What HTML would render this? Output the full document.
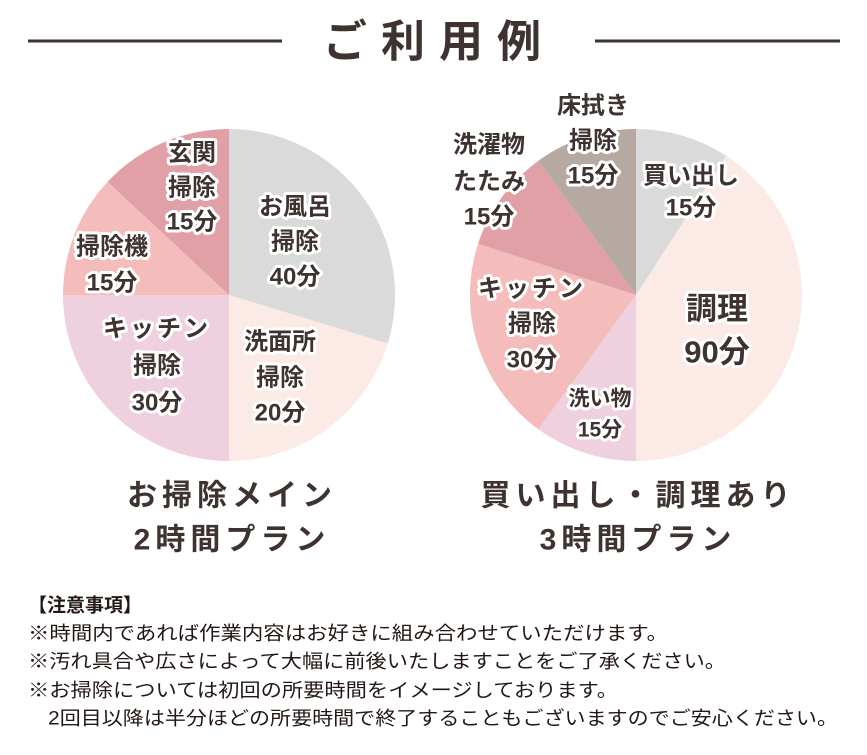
<!DOCTYPE html>
<html><head><meta charset="utf-8"><style>
html,body{margin:0;padding:0;background:#fff;}
svg{display:block;}
.l{font-family:"Liberation Sans","Noto Sans CJK JP",sans-serif;font-weight:700;fill:#3e3330;stroke:#fff;stroke-width:6px;stroke-linejoin:round;paint-order:stroke;text-anchor:middle;dominant-baseline:central;}
.t{font-family:"Liberation Sans","Noto Sans CJK JP",sans-serif;font-weight:700;fill:#3e3330;text-anchor:middle;dominant-baseline:central;}
.n{font-family:"Liberation Sans","Noto Sans CJK JP",sans-serif;font-size:19px;fill:#231815;dominant-baseline:central;}
</style></head><body>
<svg width="867" height="755" viewBox="0 0 867 755" xmlns="http://www.w3.org/2000/svg">
<line x1="28" y1="41" x2="282" y2="41" stroke="#3e3330" stroke-width="3"/>
<line x1="595" y1="41" x2="840" y2="41" stroke="#3e3330" stroke-width="3"/>
<text class="t" x="439" y="42" font-size="44" letter-spacing="14">ご利用例</text>

<g>
<path d="M229,295L229,129A166,166 0 0 1 387.75,343.54Z" fill="#dadada"/>
<path d="M229,295L387.75,343.54A166,166 0 0 1 229,461Z" fill="#fbeae6"/>
<path d="M229,295L229,461A166,166 0 0 1 63,295Z" fill="#efd0df"/>
<path d="M229,295L63,295A166,166 0 0 1 107.6,181.8Z" fill="#f4bdbb"/>
<path d="M229,295L107.6,181.8A166,166 0 0 1 229,129Z" fill="#e1a0a6"/>
</g>
<g>
<path d="M636,295L636,129A166,166 0 0 1 726.4,155.8Z" fill="#dadada"/>
<path d="M636,295L726.4,155.8A166,166 0 0 1 636,461Z" fill="#fbeae6"/>
<path d="M636,295L636,461A166,166 0 0 1 538.4,429.3Z" fill="#efd0df"/>
<path d="M636,295L538.4,429.3A166,166 0 0 1 478.1,243.7Z" fill="#f4bdbb"/>
<path d="M636,295L478.1,243.7A166,166 0 0 1 538.4,160.7Z" fill="#e1a0a6"/>
<path d="M636,295L538.4,160.7A166,166 0 0 1 636,129Z" fill="#b6a9a2"/>
</g>

<g class="l" font-size="24">
<text x="295" y="207">お風呂</text><text x="295" y="242">掃除</text><text x="295" y="277">40分</text>
<text x="280" y="342">洗面所</text><text x="280" y="378">掃除</text><text x="280" y="413">20分</text>
<text x="157" y="329" letter-spacing="3">キッチン</text><text x="157" y="366">掃除</text><text x="157" y="403">30分</text>
<text x="112" y="247">掃除機</text><text x="112" y="283">15分</text>
<text x="192" y="153">玄関</text><text x="192" y="188">掃除</text><text x="192" y="222">15分</text>

<text x="593" y="106">床拭き</text><text x="593" y="141">掃除</text><text x="593" y="176">15分</text>
<text x="489" y="145">洗濯物</text><text x="489" y="182">たたみ</text><text x="489" y="217">15分</text>
<text x="691" y="176">買い出し</text><text x="691" y="208">15分</text>
<text x="532" y="289" letter-spacing="3">キッチン</text><text x="532" y="324">掃除</text><text x="532" y="360">30分</text>
<text x="600" y="399" font-size="21">洗い物</text><text x="600" y="430" font-size="21">15分</text>
<text x="717" y="309" font-size="31">調理</text><text x="717" y="352" font-size="31">90分</text>
</g>

<g class="t" font-size="30" letter-spacing="5">
<text x="232" y="496">お掃除メイン</text>
<text x="232" y="540">2時間プラン</text>
<text x="638" y="496">買い出し・調理あり</text>
<text x="638" y="540">3時間プラン</text>
</g>

<text class="n" x="28" y="606" font-weight="700">【注意事項】</text>
<text class="n" x="28" y="634" textLength="640" lengthAdjust="spacingAndGlyphs">※時間内であれば作業内容はお好きに組み合わせていただけます。</text>
<text class="n" x="28" y="662" textLength="698" lengthAdjust="spacingAndGlyphs">※汚れ具合や広さによって大幅に前後いたしますことをご了承ください。</text>
<text class="n" x="28" y="691" textLength="590" lengthAdjust="spacingAndGlyphs">※お掃除については初回の所要時間をイメージしております。</text>
<text class="n" x="48" y="719" textLength="790" lengthAdjust="spacingAndGlyphs">2回目以降は半分ほどの所要時間で終了することもございますのでご安心ください。</text>
</svg>
</body></html>
